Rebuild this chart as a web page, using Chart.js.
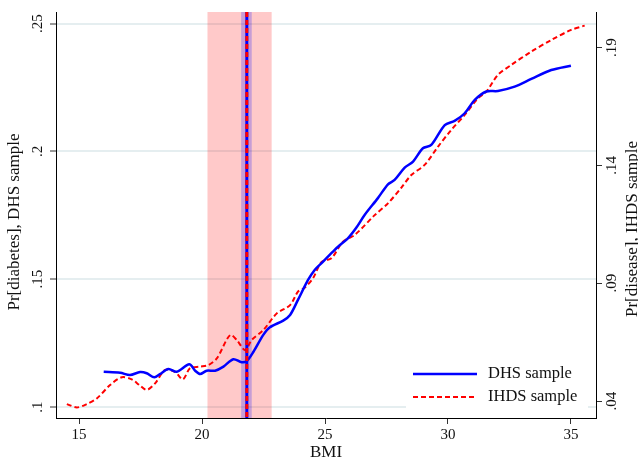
<!DOCTYPE html>
<html>
<head>
<meta charset="utf-8">
<script src="https://cdn.jsdelivr.net/npm/chart.js@4.4.1/dist/chart.umd.min.js"></script>
<style>
  html, body { margin: 0; padding: 0; background: #fff; }
</style>
</head>
<body>
<canvas id="chart" width="638" height="465"></canvas>
<script>
// DHS curve (left axis)
const dhsBmi = [16.0, 16.67, 17.07, 17.48, 17.75, 18.06, 18.29, 18.63, 18.97, 19.48, 19.72, 19.92,
  20.19, 20.53, 20.87, 21.27, 21.61, 21.82, 22.09, 22.49, 22.76, 23.30, 23.58, 23.90, 24.31,
  24.58, 24.85, 25.19, 25.53, 25.93, 26.27, 26.61, 27.15, 27.56, 27.83, 28.24, 28.58, 28.98,
  29.32, 29.87, 30.27, 30.68, 31.09, 31.56, 32.03, 32.71, 33.39, 34.20, 35.0];
const dhsProb = [0.1138, 0.1134, 0.1125, 0.1137, 0.1132, 0.1116, 0.1129, 0.1149, 0.1138, 0.1167, 0.1142, 0.1129,
  0.1142, 0.1142, 0.1158, 0.1187, 0.1175, 0.1180, 0.1216, 0.1282, 0.1312, 0.1338, 0.1360, 0.1419, 0.1497,
  0.1536, 0.1562, 0.1595, 0.1627, 0.1660, 0.1701, 0.1751, 0.1817, 0.1871, 0.1888, 0.1936, 0.1960, 0.2012,
  0.2025, 0.2103, 0.2119, 0.2149, 0.2201, 0.2234, 0.2236, 0.2253, 0.2283, 0.2318, 0.2335];

// IHDS curve (right axis)
const ihdsBmi = [14.50, 14.91, 15.31, 15.72, 16.26, 16.74, 17.14, 17.45, 17.75, 18.09, 18.50, 18.90,
  19.22, 19.51, 19.92, 20.26, 20.60, 21.14, 21.41, 21.75, 22.02, 22.49, 23.04, 23.58, 23.90,
  24.17, 24.51, 24.85, 25.26, 25.73, 26.21, 27.02, 27.56, 28.10, 28.51, 29.05, 29.59, 30.13,
  30.68, 31.22, 31.56, 32.03, 32.57, 33.39, 34.20, 35.01, 35.56];
const ihdsProb = [0.0387, 0.0373, 0.0387, 0.0411, 0.0468, 0.0501, 0.0492, 0.0468, 0.0447, 0.0475, 0.0532, 0.0524,
  0.0492, 0.0539, 0.0546, 0.0553, 0.0581, 0.0680, 0.0659, 0.0616, 0.0659, 0.0701, 0.0772, 0.0807, 0.0864,
  0.0881, 0.0921, 0.0989, 0.1006, 0.1076, 0.1105, 0.1189, 0.1239, 0.1305, 0.1359, 0.1402, 0.1479, 0.1550,
  0.1614, 0.1685, 0.1713, 0.1784, 0.1826, 0.1883, 0.1932, 0.1975, 0.1993];

// ticks
const bmiTicks = [15, 20, 25, 30, 35];
const dhsTicks = [0.1, 0.15, 0.2, 0.25];
const dhsLabels = [".1", ".15", ".2", ".25"];
const ihdsTicks = [0.04, 0.09, 0.14, 0.19];
const ihdsLabels = [".04", ".09", ".14", ".19"];

// BMI at the minimum and its confidence band
const dhsMin = 21.82;
const dhsBand = [21.59, 22.02];
const ihdsMin = 21.82;
const ihdsBand = [20.22, 22.83];

const serif = '"Liberation Serif", "Times New Roman", serif';

function toPoints(xs, ys) {
  return xs.map((x, i) => ({ x: x, y: ys[i] }));
}

const bandsPlugin = {
  id: 'bands',
  beforeDatasetsDraw(chart) {
    const ctx = chart.ctx, a = chart.chartArea, xs = chart.scales.x;
    ctx.save();
    // red CI band
    let x0 = xs.getPixelForValue(ihdsBand[0]), x1 = xs.getPixelForValue(ihdsBand[1]);
    ctx.fillStyle = 'rgba(255,0,0,0.21)';
    ctx.fillRect(x0, a.top, x1 - x0, a.bottom - a.top);
    // blue CI band
    x0 = xs.getPixelForValue(dhsBand[0]); x1 = xs.getPixelForValue(dhsBand[1]);
    ctx.fillStyle = 'rgba(0,0,255,0.22)';
    ctx.fillRect(x0, a.top, x1 - x0, a.bottom - a.top);
    ctx.restore();
  },
  afterDatasetsDraw(chart) {
    const ctx = chart.ctx, a = chart.chartArea, xs = chart.scales.x;
    ctx.save();
    let x = xs.getPixelForValue(dhsMin);
    ctx.strokeStyle = '#0000ff';
    ctx.lineWidth = 3;
    ctx.beginPath(); ctx.moveTo(x, a.top); ctx.lineTo(x, a.bottom); ctx.stroke();
    x = xs.getPixelForValue(ihdsMin);
    ctx.strokeStyle = '#ff0000';
    ctx.setLineDash([5, 3]);
    ctx.beginPath(); ctx.moveTo(x, a.top); ctx.lineTo(x, a.bottom); ctx.stroke();
    ctx.restore();
  }
};

function vText(ctx, txt, x, y) {
  ctx.save();
  ctx.translate(x, y);
  ctx.rotate(-Math.PI / 2);
  ctx.fillText(txt, 0, 0);
  ctx.restore();
}

const textPlugin = {
  id: 'texts',
  afterDraw(chart) {
    const ctx = chart.ctx, a = chart.chartArea;
    const xs = chart.scales.x, yl = chart.scales.y, yr = chart.scales.y2;
    ctx.save();
    ctx.fillStyle = '#111';
    ctx.textAlign = 'center';
    ctx.textBaseline = 'middle';

    // tick labels
    ctx.font = '15px ' + serif;
    bmiTicks.forEach(v => ctx.fillText(String(v), xs.getPixelForValue(v), 435));
    dhsTicks.forEach((v, i) => vText(ctx, dhsLabels[i], 38, yl.getPixelForValue(v)));
    ihdsTicks.forEach((v, i) => vText(ctx, ihdsLabels[i], 612, yr.getPixelForValue(v)));

    // axis titles
    ctx.font = '17px ' + serif;
    ctx.fillText('BMI', (a.left + a.right) / 2, 453);
    vText(ctx, 'Pr[diabetes], DHS sample', 15, 222);
    vText(ctx, 'Pr[disease], IHDS sample', 633, 229);

    // legend
    ctx.fillStyle = '#fff';
    ctx.fillRect(406, 356, 182, 54);
    ctx.lineWidth = 2.5;
    ctx.strokeStyle = '#0000ff';
    ctx.beginPath(); ctx.moveTo(413, 374); ctx.lineTo(477, 374); ctx.stroke();
    ctx.lineWidth = 2;
    ctx.strokeStyle = '#ff0000';
    ctx.setLineDash([5, 3]);
    ctx.beginPath(); ctx.moveTo(413, 397); ctx.lineTo(477, 397); ctx.stroke();
    ctx.setLineDash([]);
    ctx.fillStyle = '#111';
    ctx.textAlign = 'left';
    ctx.font = '16.5px ' + serif;
    ctx.fillText('DHS sample', 488, 374);
    ctx.fillText('IHDS sample', 488, 397);
    ctx.restore();
  }
};

new Chart(document.getElementById('chart'), {
  type: 'line',
  data: {
    datasets: [
      {
        label: 'DHS sample',
        data: toPoints(dhsBmi, dhsProb),
        borderColor: '#0000ff',
        borderWidth: 2.5,
        pointRadius: 0,
        tension: 0.3,
        yAxisID: 'y'
      },
      {
        label: 'IHDS sample',
        data: toPoints(ihdsBmi, ihdsProb),
        borderColor: '#ff0000',
        borderWidth: 2,
        borderDash: [5, 3],
        pointRadius: 0,
        tension: 0.3,
        yAxisID: 'y2'
      }
    ]
  },
  options: {
    responsive: false,
    animation: false,
    layout: { padding: { left: 50, right: 36, top: 12, bottom: 41 } },
    plugins: { legend: { display: false }, tooltip: { enabled: false } },
    scales: {
      x: {
        type: 'linear',
        min: 14.06, max: 36.02,
        afterBuildTicks: s => { s.ticks = bmiTicks.map(v => ({ value: v })); },
        ticks: { display: false },
        grid: { drawOnChartArea: false, tickLength: 6, tickColor: '#333', tickWidth: 1 },
        border: { color: '#000', width: 1 }
      },
      y: {
        position: 'left',
        min: 0.0957, max: 0.2545,
        afterBuildTicks: s => { s.ticks = dhsTicks.map(v => ({ value: v })); },
        ticks: { display: false },
        grid: { color: '#e5eef0', lineWidth: 2, tickLength: 6, tickColor: '#333', tickWidth: 1 },
        border: { color: '#000', width: 1 }
      },
      y2: {
        position: 'right',
        min: 0.0328, max: 0.2051,
        afterBuildTicks: s => { s.ticks = ihdsTicks.map(v => ({ value: v })); },
        ticks: { display: false },
        grid: { drawOnChartArea: false, tickLength: 6, tickColor: '#333', tickWidth: 1 },
        border: { color: '#000', width: 1 }
      }
    }
  },
  plugins: [bandsPlugin, textPlugin]
});
</script>
</body>
</html>
